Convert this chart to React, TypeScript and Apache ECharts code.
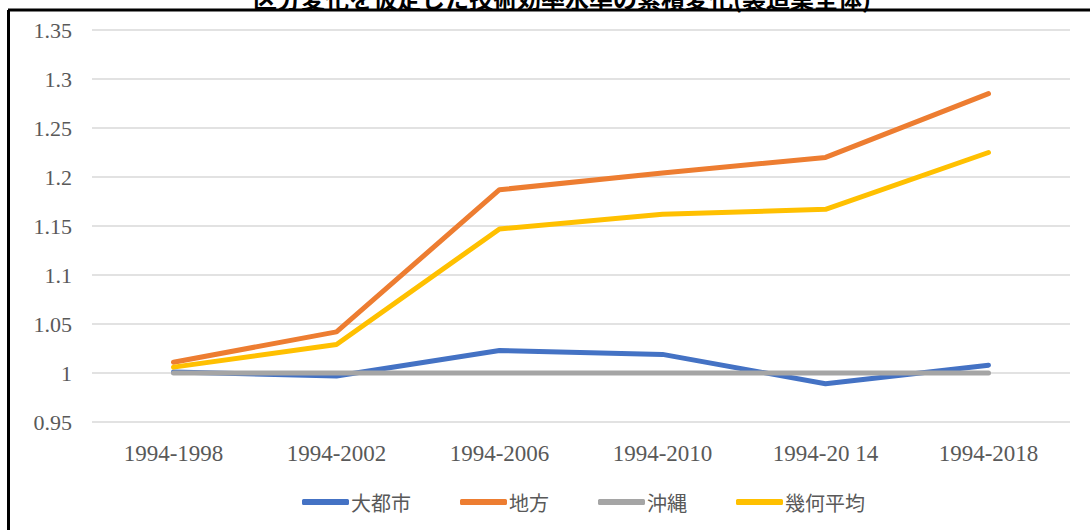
import React, { useEffect, useRef } from "react";
import * as echarts from "echarts";

const titleText = "区分変化を仮定した技術効率水準の累積変化(製造業全体)";
const categories = ["1994-1998", "1994-2002", "1994-2006", "1994-2010", "1994-20 14", "1994-2018"];
const seriesNames = ["大都市", "地方", "沖縄", "幾何平均"];
const metro = [1.001, 0.997, 1.023, 1.019, 0.989, 1.008];
const regional = [1.011, 1.042, 1.187, 1.204, 1.22, 1.285];
const okinawa = [1.0, 1.0, 1.0, 1.0, 1.0, 1.0];
const geoMean = [1.006, 1.029, 1.147, 1.162, 1.167, 1.225];
const colors = ["#4472C4", "#ED7D31", "#A5A5A5", "#FFC000"];

export default function App() {
  const ref = useRef<HTMLDivElement>(null);
  useEffect(() => {
    if (!ref.current) return;
    const chart = echarts.init(ref.current, undefined, { renderer: "svg" });
    const data = [metro, regional, okinawa, geoMean];
    chart.setOption({
      animation: false,
      backgroundColor: "#ffffff",
      title: {
        text: titleText,
        left: 248,
        top: -20,
        textStyle: { fontFamily: "Noto Sans CJK JP", fontSize: 24, fontWeight: "bold", color: "#000" },
      },
      graphic: [
        { type: "line", shape: { x1: 8, y1: 10, x2: 1090, y2: 10 }, style: { stroke: "#000", lineWidth: 3 } },
        { type: "line", shape: { x1: 8.5, y1: 10, x2: 8.5, y2: 530 }, style: { stroke: "#000", lineWidth: 3 } },
      ],
      grid: { left: 92, right: 20, top: 30, bottom: 108 },
      legend: {
        bottom: 13,
        left: 297,
        icon: "roundRect",
        itemWidth: 47,
        itemHeight: 6,
        itemGap: 49,
        textStyle: { fontFamily: "Noto Sans CJK JP", fontSize: 20, color: "#595959", padding: [0, 0, 0, -3] },
        data: seriesNames,
      },
      xAxis: {
        type: "category",
        data: categories,
        boundaryGap: true,
        axisLine: { show: false },
        axisTick: { show: false },
        axisLabel: { margin: 20, fontFamily: "Liberation Serif", fontSize: 23, color: "#595959" },
      },
      yAxis: {
        type: "value",
        min: 0.95,
        max: 1.35,
        interval: 0.05,
        axisLine: { show: false },
        axisTick: { show: false },
        splitLine: { lineStyle: { color: "#D9D9D9", width: 1.5 } },
        axisLabel: {
          margin: 20,
          fontFamily: "Liberation Serif",
          fontSize: 22,
          color: "#595959",
          formatter: (v: number) => String(parseFloat(v.toFixed(2))),
        },
      },
      series: seriesNames.map((name, i) => ({
        name,
        type: "line",
        data: data[i],
        showSymbol: false,
        symbol: "none",
        lineStyle: { color: colors[i], width: 5, cap: "round", join: "round" },
        itemStyle: { color: colors[i] },
        z: 2 + i,
      })),
    });
    return () => chart.dispose();
  }, []);
  return <div ref={ref} style={{ position: "absolute", left: 0, top: 0, width: 1090, height: 530 }} />;
}
